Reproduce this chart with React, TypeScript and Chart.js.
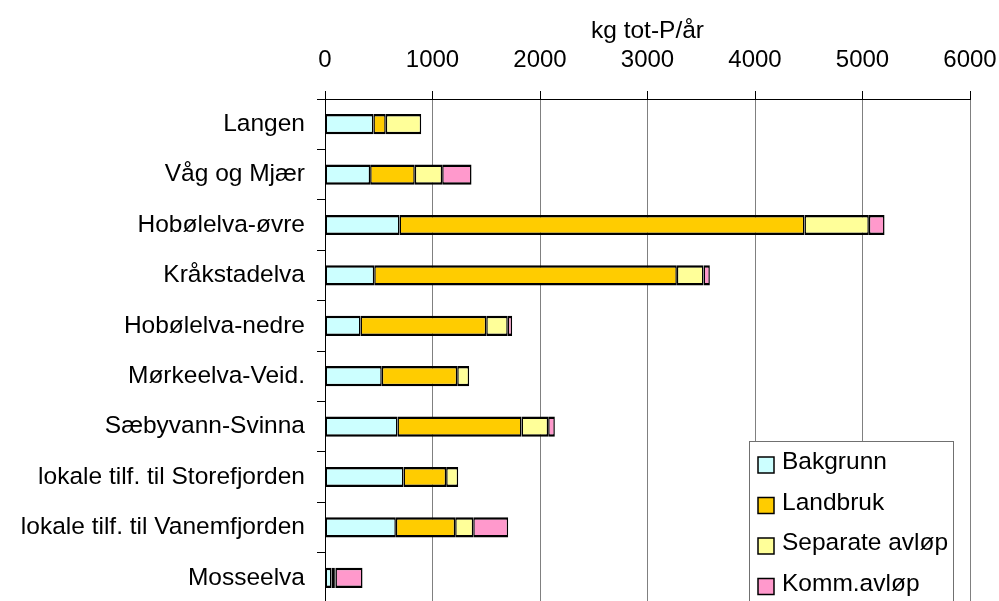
import React, { useEffect, useRef } from "react";
import { Chart, registerables } from "chart.js";

Chart.register(...registerables);

const categories = [
  "Langen",
  "Våg og Mjær",
  "Hobølelva-øvre",
  "Kråkstadelva",
  "Hobølelva-nedre",
  "Mørkeelva-Veid.",
  "Sæbyvann-Svinna",
  "lokale tilf. til Storefjorden",
  "lokale tilf. til Vanemfjorden",
  "Mosseelva",
];
const bakgrunn = [450, 420, 693, 458, 330, 528, 674, 730, 659, 60];
const landbruk = [115, 415, 3767, 2815, 1170, 702, 1154, 397, 552, 25];
const separate = [330, 255, 599, 248, 200, 111, 248, 112, 168, 12];
const komm = [0, 273, 146, 59, 41, 0, 62, 0, 325, 252];
const seriesLabels = ["Bakgrunn", "Landbruk", "Separate avløp", "Komm.avløp"];
const seriesColors = ["#CCFFFF", "#FFCC00", "#FFFF99", "#FF99CC"];
const xMin = 0;
const xMax = 6000;
const xStep = 1000;
const axisTitle = "kg tot-P/år";

const FONT = "'Liberation Sans', Arial, Helvetica, sans-serif";

const boxLegend = {
  id: "boxLegend",
  afterDraw(chart: any) {
    const { ctx, chartArea } = chart;
    const left = chartArea.right - 221;
    const top = chartArea.top + 342;
    ctx.save();
    ctx.fillStyle = "#ffffff";
    ctx.fillRect(left, top, 204, 220);
    ctx.strokeStyle = "#707070";
    ctx.lineWidth = 1;
    ctx.strokeRect(left + 0.5, top + 0.5, 204, 220);
    chart.data.datasets.forEach((ds: any, i: number) => {
      const cy = top + 24 + i * 40.5;
      ctx.fillStyle = ds.backgroundColor;
      ctx.fillRect(left + 9, cy - 8, 16, 16);
      ctx.strokeStyle = "#000";
      ctx.lineWidth = 1.5;
      ctx.strokeRect(left + 9, cy - 8, 16, 16);
      ctx.fillStyle = "#000";
      ctx.font = `24.5px ${FONT}`;
      ctx.textBaseline = "middle";
      ctx.textAlign = "left";
      ctx.fillText(ds.label, left + 33, cy - 2.5);
    });
    ctx.restore();
  },
};

export default function App() {
  const ref = useRef<HTMLCanvasElement | null>(null);

  useEffect(() => {
    document.body.style.margin = "0";
    document.body.style.overflow = "hidden";
    const canvas = ref.current;
    if (!canvas) return;
    const series = [bakgrunn, landbruk, separate, komm];
    const chart = new Chart(canvas, {
      type: "bar",
      data: {
        labels: categories,
        datasets: series.map((d, i) => ({
          label: seriesLabels[i],
          data: d,
          backgroundColor: seriesColors[i],
          borderColor: "#000000",
          borderWidth: { top: 2.5, bottom: 2.5, left: 1.5, right: 1.5 },
          borderSkipped: false,
          categoryPercentage: 1,
          barPercentage: 0.4,
        })),
      },
      options: {
        indexAxis: "y",
        responsive: false,
        animation: false,
        devicePixelRatio: 1,
        layout: { padding: { left: 0, right: 29, top: 0, bottom: 0 } },
        plugins: {
          legend: { display: false },
          tooltip: { enabled: false },
        },
        scales: {
          x: {
            position: "top",
            stacked: true,
            min: xMin,
            max: xMax,
            ticks: {
              stepSize: xStep,
              color: "#000",
              font: { family: FONT, size: 24 },
              padding: 16,
              maxRotation: 0,
              callback: (v: any) => String(v),
            },
            grid: {
              color: "#808080",
              lineWidth: 1,
              tickColor: "#000",
              tickLength: 8,
            },
            border: { color: "#000", width: 1 },
            title: {
              display: true,
              text: axisTitle,
              color: "#000",
              font: { family: FONT, size: 24.5 },
              padding: { top: 17, bottom: 0 },
            },
            afterFit: (scale: any) => {
              scale.height = 99;
              scale.paddingLeft = 0;
              scale.paddingRight = 0;
            },
          },
          y: {
            stacked: true,
            ticks: {
              color: "#000",
              font: { family: FONT, size: 24.5 },
              padding: 12,
              autoSkip: false,
            },
            grid: {
              drawOnChartArea: false,
              offset: true,
              tickColor: "#000",
              tickLength: 8,
            },
            border: { color: "#000", width: 1 },
            afterFit: (scale: any) => {
              scale.width = 325;
              scale.paddingTop = 0;
              scale.paddingBottom = 0;
            },
          },
        },
      },
      plugins: [boxLegend],
    } as any);
    return () => chart.destroy();
  }, []);

  return (
    <canvas
      ref={ref}
      width={999}
      height={603}
      style={{ display: "block", width: 999, height: 603 }}
    />
  );
}
